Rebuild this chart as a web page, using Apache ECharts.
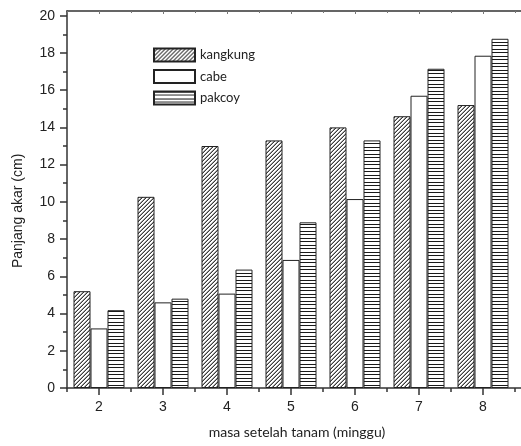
<!DOCTYPE html>
<html>
<head>
<meta charset="utf-8">
<script src="https://cdn.jsdelivr.net/npm/echarts@6/dist/echarts.min.js"></script>
<style>
html,body{margin:0;padding:0;background:#fff;}
#chart{width:521px;height:446px;}
</style>
</head>
<body>
<div id="chart"></div>
<script>
// ---- data ----
var categories = ['2', '3', '4', '5', '6', '7', '8'];
var kangkung = [5.2, 10.27, 13.0, 13.3, 14.0, 14.6, 15.2];
var cabe = [3.2, 4.6, 5.07, 6.88, 10.15, 15.7, 17.85];
var pakcoy = [4.18, 4.8, 6.36, 8.9, 13.3, 17.15, 18.76];
var seriesNames = ['kangkung', 'cabe', 'pakcoy'];

// ---- patterns ----
function diagPattern() {
  var c = document.createElement('canvas');
  c.width = 4; c.height = 4;
  var ctx = c.getContext('2d');
  ctx.fillStyle = '#ffffff';
  ctx.fillRect(0, 0, 4, 4);
  for (var x = 0; x < 4; x++) {
    for (var y = 0; y < 4; y++) {
      var m = (x + y) % 4;
      if (m === 3) { ctx.fillStyle = '#3c3c3c'; ctx.fillRect(x, y, 1, 1); }
      else if (m === 2) { ctx.fillStyle = '#a0a0a0'; ctx.fillRect(x, y, 1, 1); }
    }
  }
  return c;
}
function horizPattern() {
  var c = document.createElement('canvas');
  c.width = 4; c.height = 7;
  var ctx = c.getContext('2d');
  ctx.fillStyle = '#ffffff';
  ctx.fillRect(0, 0, 4, 7);
  ctx.fillStyle = '#1a1a1a';
  ctx.fillRect(0, 0, 4, 1);
  ctx.fillRect(0, 3, 4, 1);
  return c;
}

var axisColor = '#333333';
var lineStyle = { color: axisColor, width: 1.5 };
var tickFont = { fontFamily: 'Liberation Sans, Arial, sans-serif', fontSize: 14, color: '#222' };

var chart = echarts.init(document.getElementById('chart'), null, { renderer: 'canvas' });

function barSeries(name, data, fill) {
  return {
    name: name,
    type: 'bar',
    xAxisIndex: 0,
    yAxisIndex: 0,
    data: data,
    barWidth: 17,
    barGap: '0%',
    itemStyle: { color: fill, borderColor: '#222', borderWidth: 1 },
    emphasis: { disabled: true },
    animation: false
  };
}

var option = {
  animation: false,
  backgroundColor: '#ffffff',
  legend: {
    orient: 'vertical',
    left: 153,
    top: 47.5,
    padding: 0,
    itemWidth: 41,
    itemHeight: 13,
    itemGap: 6.5,
    icon: 'rect',
    data: seriesNames,
    textStyle: { fontFamily: 'Lato, Open Sans, sans-serif', fontSize: 13, color: '#222', lineHeight: 13 },
    selectedMode: false
  },
  grid: [
    { left: 67, right: 6, top: 15.7, bottom: 58 },
    { left: 67, right: 0, top: 11, bottom: 58 }
  ],
  xAxis: [
    {
      type: 'category', gridIndex: 0, position: 'bottom', data: categories,
      axisLine: { show: false },
      axisTick: { show: true, alignWithLabel: true, length: 7, lineStyle: lineStyle },
      axisLabel: Object.assign({ margin: 12 }, tickFont),
      name: 'masa setelah tanam (minggu)',
      nameLocation: 'middle',
      nameGap: 37,
      nameTextStyle: { fontFamily: 'Lato, Open Sans, sans-serif', fontSize: 14, color: '#222', padding: [0, 0, 0, 12] },
      splitLine: { show: false }
    },
    {
      type: 'category', gridIndex: 0, position: 'bottom', data: categories,
      axisLine: { show: false },
      axisTick: { show: true, alignWithLabel: false, length: 4, lineStyle: lineStyle },
      axisLabel: { show: false },
      splitLine: { show: false }
    },
    {
      type: 'category', gridIndex: 0, position: 'top', offset: 4.7, data: categories,
      axisLine: { show: false },
      axisTick: { show: true, inside: true, alignWithLabel: true, length: 3, lineStyle: { color: '#777', width: 1 } },
      axisLabel: { show: false },
      splitLine: { show: false }
    },
    {
      type: 'category', gridIndex: 0, position: 'top', offset: 4.7, data: categories,
      axisLine: { show: false },
      axisTick: { show: true, inside: true, alignWithLabel: false, length: 2, lineStyle: { color: '#777', width: 1 } },
      axisLabel: { show: false },
      splitLine: { show: false }
    },
    {
      type: 'value', gridIndex: 1, position: 'bottom', min: 0, max: 1,
      axisLine: { show: true, lineStyle: lineStyle },
      axisTick: { show: false }, axisLabel: { show: false }, splitLine: { show: false }
    },
    {
      type: 'value', gridIndex: 1, position: 'top', min: 0, max: 1,
      axisLine: { show: true, lineStyle: lineStyle },
      axisTick: { show: false }, axisLabel: { show: false }, splitLine: { show: false }
    }
  ],
  yAxis: [
    {
      type: 'value', gridIndex: 0, min: 0, max: 20, interval: 2,
      axisLine: { show: false },
      axisTick: { show: true, length: 7, lineStyle: lineStyle },
      minorTick: { show: true, splitNumber: 2, length: 4, lineStyle: lineStyle },
      axisLabel: Object.assign({ margin: 12 }, tickFont),
      splitLine: { show: false },
      minorSplitLine: { show: false },
      name: 'Panjang akar (cm)',
      nameLocation: 'middle',
      nameGap: 42,
      nameTextStyle: { fontFamily: 'Liberation Sans, Arial, sans-serif', fontSize: 14, color: '#222', padding: [0, 18, 0, 0] }
    },
    {
      type: 'value', gridIndex: 1, min: 0, max: 1, position: 'left',
      axisLine: { show: true, lineStyle: lineStyle },
      axisTick: { show: false }, axisLabel: { show: false }, splitLine: { show: false }
    }
  ],
  series: [
    barSeries(seriesNames[0], kangkung, { image: diagPattern(), repeat: 'repeat' }),
    barSeries(seriesNames[1], cabe, '#ffffff'),
    barSeries(seriesNames[2], pakcoy, { image: horizPattern(), repeat: 'repeat' })
  ]
};
chart.setOption(option);
</script>
</body>
</html>
